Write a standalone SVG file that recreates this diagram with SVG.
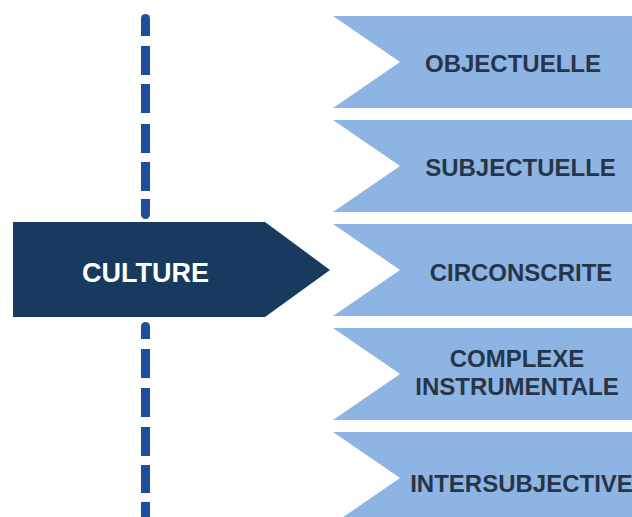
<svg xmlns="http://www.w3.org/2000/svg" width="632" height="517" viewBox="0 0 632 517">
  <style>
    .chev { fill: #8db4e2; }
    .chev-text { font-family: "Liberation Sans", Arial, sans-serif; font-weight: bold; font-size: 24px; fill: #26364a; text-anchor: middle; }
    .main { fill: #183a5f; }
    .main-text { font-family: "Liberation Sans", Arial, sans-serif; font-weight: bold; font-size: 27px; fill: #ffffff; text-anchor: middle; }
    .dash { fill: #1d4d9c; }
  </style>
  <rect width="632" height="517" fill="#ffffff"/>
  <g id="connectors">
    <path class="dash" d="M141,36 V18.5 A4.5,4.5 0 0 1 150,18.5 V36 Z"/>
    <rect class="dash" x="141" y="46" width="9" height="29"/>
    <rect class="dash" x="141" y="84" width="9" height="29"/>
    <rect class="dash" x="141" y="124" width="9" height="29"/>
    <rect class="dash" x="141" y="162" width="9" height="29"/>
    <path class="dash" d="M141,199 V214.5 A4.5,4.5 0 0 0 150,214.5 V199 Z"/>
    <path class="dash" d="M141,339 V326.5 A4.5,4.5 0 0 1 150,326.5 V339 Z"/>
    <rect class="dash" x="141" y="349" width="9" height="29"/>
    <rect class="dash" x="141" y="388" width="9" height="29"/>
    <rect class="dash" x="141" y="427" width="9" height="29"/>
    <rect class="dash" x="141" y="465" width="9" height="28"/>
    <rect class="dash" x="141" y="502" width="9" height="15"/>
  </g>
  <g id="culture">
    <polygon class="main" points="13,222 265,222 330,270 265,317 13,317"/>
    <text class="main-text" x="145.5" y="282">CULTURE</text>
  </g>
  <g id="objectuelle">
    <polygon class="chev" points="333,16 632,16 632,108 333,108 400,62"/>
    <text class="chev-text" x="513" y="71.5">OBJECTUELLE</text>
  </g>
  <g id="subjectuelle">
    <polygon class="chev" points="333,120 632,120 632,212 333,212 400,166"/>
    <text class="chev-text" x="520.5" y="176">SUBJECTUELLE</text>
  </g>
  <g id="circonscrite">
    <polygon class="chev" points="333,224 632,224 632,316 333,316 400,270"/>
    <text class="chev-text" x="521" y="280.5">CIRCONSCRITE</text>
  </g>
  <g id="complexe-instrumentale">
    <polygon class="chev" points="333,328 632,328 632,420 333,420 400,374"/>
    <text class="chev-text" x="517" y="366.5">COMPLEXE</text>
    <text class="chev-text" x="517" y="395">INSTRUMENTALE</text>
  </g>
  <g id="intersubjective">
    <polygon class="chev" points="333,432 632,432 632,524 333,524 400,478"/>
    <text class="chev-text" x="521.5" y="491.5">INTERSUBJECTIVE</text>
  </g>
</svg>
